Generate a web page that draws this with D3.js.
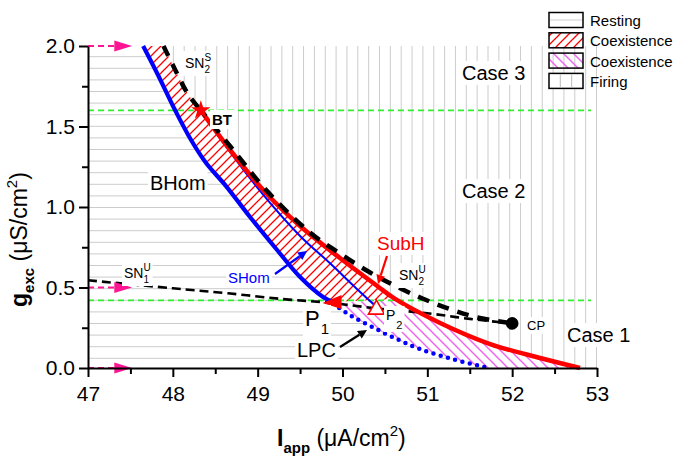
<!DOCTYPE html>
<html><head><meta charset="utf-8">
<script src="https://cdn.jsdelivr.net/npm/d3@7"></script>
<style>
body{margin:0;background:#fff;}
svg{display:block;font-family:"Liberation Sans",Arial,Helvetica,sans-serif;}
</style>
</head><body>
<svg id="c" width="675" height="456"></svg>
<script>
// ---------------- data ----------------
const xTicks = [47, 48, 49, 50, 51, 52, 53];
const xMinor = [47.5, 48.5, 49.5, 50.5, 51.5, 52.5];
const yTicks = [0, 0.5, 1.0, 1.5, 2.0];
const yMinor = [0.25, 0.75, 1.25, 1.75];
const bhom = [[47.65,2.0],[47.825,1.82],[48.026,1.602],[48.215,1.416],[48.392,1.273],[48.627,1.13],[48.91,0.938],[49.229,0.733],[49.50,0.565],[49.771,0.441],[49.889,0.41]];
const subH = [[48.33,1.60],[48.675,1.354],[49.087,1.093],[49.50,0.882],[49.97,0.683],[50.41,0.509],[50.62,0.429],[51.15,0.28],[51.74,0.149],[52.33,0.062],[52.80,0.0]];
const shom = [[48.33,1.60],[48.675,1.342],[49.03,1.099],[49.50,0.82],[49.85,0.652],[50.17,0.491],[50.40,0.38]];
const sn2s = [[47.89,2.0],[48.03,1.85],[48.18,1.70],[48.33,1.60]];
const sn2u = [[48.33,1.60],[48.70,1.362],[49.10,1.105],[49.62,0.84],[49.93,0.725],[50.27,0.61],[50.62,0.51],[50.95,0.43],[51.27,0.365],[51.58,0.315],[52.0,0.277]];
const sn1u = [[47.0,0.545],[48.0,0.495],[48.65,0.464],[49.3,0.428],[49.85,0.405],[50.4,0.37],[51.0,0.34],[51.5,0.305],[52.0,0.277]];
const lpc = [[49.89,0.40],[50.1,0.325],[50.35,0.255],[50.6,0.19],[50.9,0.12],[51.3,0.055],[51.72,0.0]];
const P1 = [49.87, 0.41], P2 = [50.40, 0.372], CP = [52.0, 0.277], BT = [48.33, 1.60];
const greenLevels = [1.6, 0.42];
const arrowLevels = [2.0, 0.5, 0.0];
const legendItems = ["Resting", "Coexistence", "Coexistence", "Firing"];

// ---------------- setup ----------------
const svg = d3.select("#c");
const x = d3.scaleLinear().domain([47, 53]).range([88, 597]);
const y = d3.scaleLinear().domain([0, 2]).range([368, 46]);
const line = d3.line().x(d => x(d[0])).y(d => y(d[1])).curve(d3.curveCatmullRom.alpha(0.5));
const straight = d3.line().x(d => x(d[0])).y(d => y(d[1]));
const cont = p => p.replace(/^M/, "L");
const rev = a => a.slice().reverse();

const defs = svg.append("defs");
const pr = defs.append("pattern").attr("id","hatchRed").attr("patternUnits","userSpaceOnUse").attr("width",9).attr("height",9);
pr.append("path").attr("d","M-2,2 L2,-2 M0,9 L9,0 M7,11 L11,7").attr("stroke","#ff0000").attr("stroke-width",1.3);
const pp = defs.append("pattern").attr("id","hatchPink").attr("patternUnits","userSpaceOnUse").attr("width",10).attr("height",10);
pp.append("path").attr("d","M-2,8 L2,12 M0,0 L10,10 M8,-2 L12,2").attr("stroke","#ee66ee").attr("stroke-width",1.5);

const iRedSplit = 6;
const restPath = straight([[47,2],bhom[0]]) + cont(line(bhom)) + cont(line(lpc)) + cont(straight([[lpc[lpc.length-1][0],0],[47,0]])) + "Z";
const redPath = line(bhom) + cont(straight([bhom[bhom.length-1], subH[iRedSplit]])) + cont(line(rev(subH.slice(0, iRedSplit+1)))) + cont(line(rev(sn2s))) + "Z";
const pinkPath = line(lpc) + cont(line(rev(subH.slice(iRedSplit)))) + cont(straight([subH[iRedSplit], lpc[0]])) + "Z";
const firePath = line(sn2s) + cont(line(subH)) + cont(straight([[53,0],[53,2]])) + "Z";

defs.append("clipPath").attr("id","clipRest").append("path").attr("d", restPath);
defs.append("clipPath").attr("id","clipFire").append("path").attr("d", firePath);

const gRest = svg.append("g").attr("clip-path","url(#clipRest)");
d3.range(358.3, 45, -11.6).forEach(py => {
  gRest.append("line").attr("x1",88).attr("x2",597).attr("y1",py).attr("y2",py).attr("stroke","#cccccc").attr("stroke-width",1);
});
const gFire = svg.append("g").attr("clip-path","url(#clipFire)");
d3.range(596.5, 88, -10.85).forEach(px => {
  gFire.append("line").attr("x1",px).attr("x2",px).attr("y1",46).attr("y2",368).attr("stroke","#cccccc").attr("stroke-width",1);
});
svg.append("path").attr("d", redPath).attr("fill","url(#hatchRed)");
svg.append("path").attr("d", pinkPath).attr("fill","url(#hatchPink)");

greenLevels.forEach(g => {
  svg.append("line").attr("x1",x(47)).attr("x2",x(52.93)).attr("y1",y(g)).attr("y2",y(g))
    .attr("stroke","#33ee33").attr("stroke-width",1.6).attr("stroke-dasharray","6,4");
});

svg.append("path").attr("d", line(sn1u)).attr("fill","none").attr("stroke","#000").attr("stroke-width",2.6).attr("stroke-dasharray","9,5");
svg.append("path").attr("d", line(lpc)).attr("fill","none").attr("stroke","#0000ff").attr("stroke-width",4.5).attr("stroke-linecap","round").attr("stroke-dasharray","0,7.5");
svg.append("path").attr("d", line(shom)).attr("fill","none").attr("stroke","#0000ff").attr("stroke-width",2);
svg.append("path").attr("d", line(bhom)).attr("fill","none").attr("stroke","#0000ff").attr("stroke-width",4.2);
svg.append("path").attr("d", line(subH)).attr("fill","none").attr("stroke","#ff0000").attr("stroke-width",4.5);
svg.append("path").attr("d", line(sn2s)).attr("fill","none").attr("stroke","#000").attr("stroke-width",4.5).attr("stroke-dasharray","11,9");
svg.append("path").attr("d", line(sn2u)).attr("fill","none").attr("stroke","#000").attr("stroke-width",4.5).attr("stroke-dasharray","12,9").attr("stroke-dashoffset",4);

svg.append("circle").attr("cx",x(CP[0])).attr("cy",y(CP[1])).attr("r",6.3).attr("fill","#000");
svg.append("path").attr("d", d3.symbol(d3.symbolStar).size(115)()).attr("transform",`translate(${x(BT[0])},${y(BT[1])})`).attr("fill","#ff0000");
{
  const cx = x(P1[0]), cy = y(P1[1]);
  svg.append("path").attr("d",`M${cx-9},${cy+1} L${cx+10},${cy-7} L${cx+10},${cy+7} Z`).attr("fill","#ff0000");
  const px = x(P2[0]), py = y(P2[1]);
  svg.append("path").attr("d",`M${px},${py-8} L${px+8},${py+6} L${px-8},${py+6} Z`).attr("fill","#fff").attr("stroke","#ff0000").attr("stroke-width",1.6);
}

function arrow(x1,y1,x2,y2,color,w,hl,hw){
  const a = Math.atan2(y2-y1,x2-x1);
  const bx = x2 - hl*Math.cos(a), by = y2 - hl*Math.sin(a);
  svg.append("line").attr("x1",x1).attr("y1",y1).attr("x2",bx).attr("y2",by).attr("stroke",color).attr("stroke-width",w);
  const nx = -Math.sin(a)*hw, ny = Math.cos(a)*hw;
  svg.append("path").attr("d",`M${x2},${y2} L${bx+nx},${by+ny} L${bx-nx},${by-ny} Z`).attr("fill",color);
}
arrowLevels.forEach(g => {
  const yy = y(g);
  svg.append("line").attr("x1",x(47)).attr("x2",x(47.31)).attr("y1",yy).attr("y2",yy).attr("stroke","#ff1493").attr("stroke-width",2).attr("stroke-dasharray","6,4");
  svg.append("path").attr("d",`M${x(47.52)},${yy} L${x(47.31)},${yy-5.5} L${x(47.31)},${yy+5.5} Z`).attr("fill","#ff1493");
});
arrow(387,256,378,284,"#ff0000",2.2,9,4.5);
arrow(275,274,307,251,"#0000ff",2.2,9,4.5);
arrow(340,347,367,330,"#000",2.2,9,4.5);

const gLab = svg.append("g");
function rich(parent, x0, y0, parts, bg){
  const g = parent.append("g");
  let cx = x0, prevStart = x0;
  parts.forEach(p => {
    const px = p.stack ? prevStart : cx + (p.dx||0);
    const el = g.append("text").attr("x",px).attr("y",y0+(p.dy||0)).attr("font-size",p.size)
      .attr("font-weight",p.bold?"bold":"normal").attr("fill",p.color||"#000").style("white-space","pre").text(p.t);
    const w = el.node().getComputedTextLength();
    prevStart = px;
    cx = Math.max(cx, px + w);
  });
  if (bg) {
    const b = g.node().getBBox();
    g.insert("rect",":first-child").attr("x",b.x-2).attr("y",b.y-1).attr("width",b.width+4).attr("height",b.height+2).attr("fill","#fff");
  }
  return g;
}
rich(gLab, 462, 80, [{t:"Case 3", size:20}], true);
rich(gLab, 462, 198, [{t:"Case 2", size:20}], true);
rich(gLab, 567, 342, [{t:"Case 1", size:20}], true);
rich(gLab, 150, 190, [{t:"BHom", size:20}], true);
rich(gLab, 377, 250, [{t:"SubH", size:19, color:"#ff0000"}], true);
rich(gLab, 228, 283, [{t:"SHom", size:15, color:"#0000ff"}], true);
rich(gLab, 185, 68, [{t:"SN", size:14},{t:"2", size:10, dy:5},{t:"S", size:10, dy:-7, stack:true}], true);
rich(gLab, 399, 280, [{t:"SN", size:14},{t:"2", size:10, dy:5},{t:"U", size:10, dy:-7, stack:true}], true);
rich(gLab, 124, 278, [{t:"SN", size:14},{t:"1", size:10, dy:5},{t:"U", size:10, dy:-7, stack:true}], true);
rich(gLab, 212, 125, [{t:"BT", size:15, bold:true}], true);
rich(gLab, 305, 326, [{t:"P", size:22},{t:"1", size:15, dy:8, dx:1}], true);
rich(gLab, 386, 320, [{t:"P", size:14},{t:"2", size:11, dy:9, dx:1}], true);
rich(gLab, 297, 357, [{t:"LPC", size:20}], true);
rich(gLab, 527, 330, [{t:"CP", size:13}], true);

function styleAxis(g){
  g.select(".domain").attr("stroke","#000").attr("stroke-width",2);
  g.selectAll(".tick line").attr("stroke","#000").attr("stroke-width",2);
  g.selectAll(".tick text").attr("font-size",21).attr("fill","#000").attr("font-family",'"Liberation Sans",Arial,sans-serif');
}
const gx = svg.append("g").attr("transform",`translate(0,${y(0)})`)
  .call(d3.axisBottom(x).tickValues(xTicks).tickSize(9).tickSizeOuter(0).tickPadding(9).tickFormat(d3.format("d")));
styleAxis(gx);
const gxm = svg.append("g").attr("transform",`translate(0,${y(0)})`)
  .call(d3.axisBottom(x).tickValues(xMinor).tickSize(6).tickSizeOuter(0).tickFormat(""));
gxm.select(".domain").remove(); styleAxis(gxm);
const gy = svg.append("g").attr("transform",`translate(${x(47)},0)`)
  .call(d3.axisLeft(y).tickValues(yTicks).tickSize(9).tickSizeOuter(0).tickPadding(4).tickFormat(d3.format(".1f")));
styleAxis(gy);
const gym = svg.append("g").attr("transform",`translate(${x(47)},0)`)
  .call(d3.axisLeft(y).tickValues(yMinor).tickSize(6).tickSizeOuter(0).tickFormat(""));
gym.select(".domain").remove(); styleAxis(gym);

rich(svg, 277, 446, [{t:"I", size:23, bold:true},{t:"app", size:15, bold:true, dy:7},{t:"\u00A0(\u03BCA/cm", size:23},{t:"2", size:15, dy:-10},{t:")", size:23}], false);
const gyt = svg.append("g").attr("transform","translate(27,307) rotate(-90)");
rich(gyt, 0, 0, [{t:"g", size:23, bold:true},{t:"exc", size:15, bold:true, dy:7},{t:"\u00A0(\u03BCS/cm", size:23},{t:"2", size:15, dy:-10},{t:")", size:23}], false);

const lg = svg.append("g");
const sw = [0, 20.3, 40.6, 60.9];
legendItems.forEach((name, i) => {
  const yy = 12.5 + sw[i];
  const fill = i === 1 ? "url(#hatchRed)" : i === 2 ? "url(#hatchPink)" : "#fff";
  lg.append("rect").attr("x",549).attr("y",yy).attr("width",34).attr("height",15).attr("fill",fill).attr("stroke","#000").attr("stroke-width",1.5);
  if (i === 0) lg.append("line").attr("x1",550).attr("x2",582).attr("y1",yy+7.5).attr("y2",yy+7.5).attr("stroke","#cfcfcf");
  if (i === 3) [560.3, 571.7].forEach(px => lg.append("line").attr("x1",px).attr("x2",px).attr("y1",yy+1).attr("y2",yy+14).attr("stroke","#bbb"));
  lg.append("text").attr("x",590).attr("y",yy+13.5).attr("font-size",15).attr("fill","#000").text(name);
});
</script>
</body></html>
